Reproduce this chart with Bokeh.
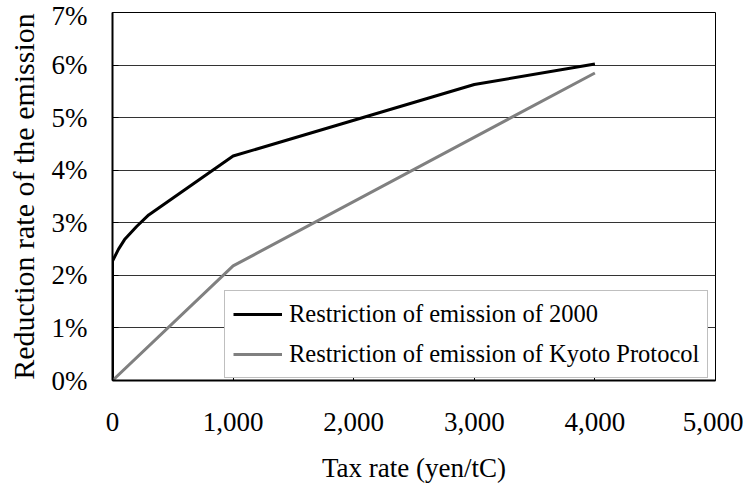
from bokeh.plotting import figure
from bokeh.models import Range1d, FixedTicker, NumeralTickFormatter, PrintfTickFormatter, Legend, LegendItem
from bokeh.embed import file_html
from bokeh.resources import INLINE

# Data (tax rate in yen/tC, reduction rate in %)
tax_2000 = [0, 0, 50, 100, 200, 300, 1000, 3000, 4000]
red_2000 = [0.0, 2.27, 2.5, 2.68, 2.93, 3.15, 4.27, 5.63, 6.02]
tax_kyoto = [0, 1000, 4000]
red_kyoto = [0.0, 2.18, 5.85]
x_ticks = [0, 1000, 2000, 3000, 4000, 5000]
y_ticks = [0, 1, 2, 3, 4, 5, 6, 7]
label_2000 = "Restriction of emission of 2000"
label_kyoto = "Restriction of emission of Kyoto Protocol"

FONT = "Times"

p = figure(width=743, height=485, output_backend="svg", toolbar_location=None,
           x_range=Range1d(0, 5000), y_range=Range1d(0, 7),
           min_border_left=112, min_border_right=28, min_border_top=12, min_border_bottom=102)
p.background_fill_color = "white"
p.border_fill_color = "white"
p.outline_line_color = "black"
p.outline_line_width = 1

r1 = p.line(tax_2000, red_2000, line_color="black", line_width=3)
r2 = p.line(tax_kyoto, red_kyoto, line_color="#808080", line_width=3)

p.xgrid.visible = False
p.ygrid.grid_line_color = "#333333"
p.ygrid.grid_line_width = 1
p.ygrid.ticker = FixedTicker(ticks=y_ticks)

xa = p.xaxis[0]
xa.ticker = FixedTicker(ticks=x_ticks)
xa.formatter = NumeralTickFormatter(format="0,0")
xa.axis_label = "Tax rate (yen/tC)"
ya = p.yaxis[0]
ya.ticker = FixedTicker(ticks=y_ticks)
ya.formatter = PrintfTickFormatter(format="%d%%")
ya.axis_label = "Reduction rate of the emission"

for ax in (xa, ya):
    ax.axis_line_color = "black"
    ax.axis_line_width = 2
    ax.major_tick_in = 6
    ax.major_tick_out = 0
    ax.major_tick_line_color = "black"
    ax.minor_tick_line_color = None
    ax.major_label_text_font = FONT
    ax.major_label_text_font_size = "27px"
    ax.major_label_text_font_style = "normal"
    ax.major_label_text_color = "black"
    ax.axis_label_text_font = FONT
    ax.axis_label_text_font_style = "normal"
    ax.axis_label_text_color = "black"

xa.major_label_standoff = 32
xa.axis_label_text_font_size = "27px"
xa.axis_label_standoff = 19
ya.major_label_standoff = 25
ya.axis_label_text_font_size = "30px"
ya.axis_label_standoff = 9

legend = Legend(items=[LegendItem(label=label_2000, renderers=[r1]),
                       LegendItem(label=label_kyoto, renderers=[r2])],
                location=(112, 2))
legend.label_text_font = FONT
legend.label_text_font_size = "24.5px"
legend.label_text_color = "black"
legend.border_line_color = "#808080"
legend.border_line_width = 1
legend.background_fill_alpha = 1
legend.glyph_width = 49
legend.label_standoff = 7
legend.padding = 8
legend.spacing = 10
legend.margin = 0
legend.label_height = 30
legend.glyph_height = 30
p.add_layout(legend, "center")

open("out.html", "w").write(file_html(p, INLINE))
